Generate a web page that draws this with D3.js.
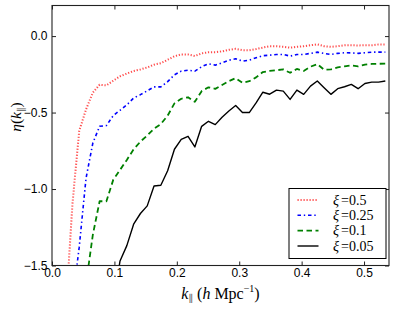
<!DOCTYPE html>
<html>
<head>
<meta charset="utf-8">
<script src="https://cdn.jsdelivr.net/npm/d3@7"></script>
<style>
  html, body { margin: 0; padding: 0; background: #fff; }
  svg { display: block; }
  .tick text { font-family: "Liberation Sans", Arial, sans-serif; font-size: 12px; fill: #000; }
</style>
</head>
<body>
<svg id="chart" width="395" height="309"></svg>
<script>
// k_parallel sample points (h Mpc^-1)
const kPar = [0.0109, 0.0218, 0.0327, 0.0436, 0.0545, 0.0654, 0.0763, 0.0872, 0.0981, 0.1090,
  0.1199, 0.1308, 0.1417, 0.1526, 0.1635, 0.1744, 0.1853, 0.1962, 0.2071, 0.2180,
  0.2289, 0.2398, 0.2507, 0.2616, 0.2725, 0.2834, 0.2943, 0.3052, 0.3161, 0.3270,
  0.3379, 0.3488, 0.3597, 0.3706, 0.3815, 0.3924, 0.4033, 0.4142, 0.4251, 0.4360,
  0.4469, 0.4578, 0.4687, 0.4796, 0.4905, 0.5014, 0.5123, 0.5232, 0.5341];

// eta(k_parallel) for each xi
const eta05 = [null, -1.82, -1.10, -0.62, -0.48, -0.37, -0.318, -0.322, -0.292, -0.263,
  -0.245, -0.228, -0.218, -0.205, -0.187, -0.177, -0.155, -0.132, -0.120, -0.120,
  -0.130, -0.113, -0.106, -0.105, -0.100, -0.090, -0.083, -0.092, -0.093, -0.085,
  -0.075, -0.066, -0.066, -0.070, -0.076, -0.070, -0.066, -0.060, -0.054, -0.066,
  -0.070, -0.066, -0.060, -0.060, -0.061, -0.060, -0.060, -0.055, -0.055];

const eta025 = [null, null, -1.74, -1.38, -0.93, -0.70, -0.59, -0.585, -0.52, -0.485,
  -0.45, -0.405, -0.383, -0.358, -0.332, -0.332, -0.298, -0.253, -0.229, -0.223,
  -0.229, -0.200, -0.181, -0.190, -0.175, -0.158, -0.148, -0.164, -0.157, -0.142,
  -0.128, -0.125, -0.120, -0.120, -0.131, -0.120, -0.120, -0.113, -0.105, -0.113,
  -0.120, -0.113, -0.109, -0.110, -0.113, -0.109, -0.105, -0.105, -0.105];

const eta01 = [null, null, null, null, -1.62, -1.30, -1.08, -1.08, -0.94, -0.875,
  -0.81, -0.74, -0.69, -0.65, -0.605, -0.575, -0.52, -0.44, -0.41, -0.40,
  -0.43, -0.36, -0.335, -0.345, -0.32, -0.295, -0.275, -0.305, -0.295, -0.27,
  -0.235, -0.228, -0.223, -0.218, -0.24, -0.215, -0.228, -0.20, -0.183, -0.22,
  -0.218, -0.205, -0.198, -0.192, -0.198, -0.187, -0.182, -0.181, -0.18];

const eta005 = [null, null, null, null, null, null, null, null, -1.75, -1.47,
  -1.37, -1.23, -1.16, -1.11, -0.98, -0.975, -0.88, -0.74, -0.675, -0.655,
  -0.725, -0.59, -0.557, -0.579, -0.531, -0.49, -0.454, -0.50, -0.50, -0.437,
  -0.367, -0.38, -0.353, -0.36, -0.414, -0.353, -0.381, -0.327, -0.294, -0.338,
  -0.381, -0.344, -0.331, -0.316, -0.344, -0.31, -0.301, -0.301, -0.294];

const xiLabels = ["0.5", "0.25", "0.1", "0.05"];
const xTicks = [0.0, 0.1, 0.2, 0.3, 0.4, 0.5];
const yTicks = [-1.5, -1.0, -0.5, 0.0];

const series = [
  { label: xiLabels[0], values: eta05, color: "#ff2020", dash: "1.2,1.8", width: 2, opacity: 0.8 },
  { label: xiLabels[1], values: eta025, color: "#0000ff", dash: "3.5,2.8,1.4,2.8", width: 1.6, opacity: 1 },
  { label: xiLabels[2], values: eta01, color: "#008000", dash: "5.5,3.5", width: 1.8, opacity: 1 },
  { label: xiLabels[3], values: eta005, color: "#000000", dash: null, width: 1.4, opacity: 1 }
];

const svg = d3.select("#chart");
const L = 52, R = 389, T = 5.5, B = 265.5;

const x = d3.scaleLinear().domain([0, 0.54]).range([L, R]);
const y = d3.scaleLinear().domain([-1.5, 0.2]).range([B, T]);

svg.append("defs").append("clipPath").attr("id", "clip")
  .append("rect").attr("x", L).attr("y", T).attr("width", R - L).attr("height", B - T);

const line = d3.line()
  .defined(d => d[1] !== null)
  .x(d => x(d[0]))
  .y(d => y(d[1]));

const plot = svg.append("g").attr("clip-path", "url(#clip)");
series.forEach(s => {
  const pts = kPar.map((k, i) => [k, s.values[i]]);
  plot.append("path")
    .attr("d", line(pts))
    .attr("fill", "none")
    .attr("stroke", s.color)
    .attr("stroke-opacity", s.opacity)
    .attr("stroke-width", s.width)
    .attr("stroke-dasharray", s.dash)
    .attr("stroke-linejoin", "round");
});

// axes (ticks inside)
const fmt = d3.format(".1f");
const gx = svg.append("g").attr("transform", `translate(0,${B})`)
  .call(d3.axisBottom(x).tickValues(xTicks).tickFormat(fmt).tickSizeInner(-4).tickSizeOuter(0).tickPadding(2.5));
const gxt = svg.append("g").attr("transform", `translate(0,${T})`)
  .call(d3.axisTop(x).tickValues(xTicks).tickFormat("").tickSizeInner(-4).tickSizeOuter(0));
const gy = svg.append("g").attr("transform", `translate(${L},0)`)
  .call(d3.axisLeft(y).tickValues(yTicks).tickFormat(fmt).tickSizeInner(-4).tickSizeOuter(0).tickPadding(4.5));
const gyr = svg.append("g").attr("transform", `translate(${R},0)`)
  .call(d3.axisRight(y).tickValues(yTicks).tickFormat("").tickSizeInner(-4).tickSizeOuter(0));
[gx, gxt, gy, gyr].forEach(g => {
  g.select(".domain").remove();
  g.selectAll(".tick line").attr("stroke", "#222").attr("stroke-width", 1);
});

// frame
svg.append("rect").attr("x", L).attr("y", T).attr("width", R - L).attr("height", B - T)
  .attr("fill", "none").attr("stroke", "#222").attr("stroke-width", 1.1);

// axis labels
const serif = "'Liberation Serif', 'DejaVu Serif', serif";
const xl = svg.append("text").attr("x", (L + R) / 2).attr("y", 298.5)
  .attr("text-anchor", "middle").attr("font-family", serif).attr("font-size", 16).attr("fill", "#000");
xl.append("tspan").attr("font-style", "italic").text("k");
xl.append("tspan").attr("font-size", 10).attr("dy", 3.5).attr("fill", "#555").text("\u2225");
xl.append("tspan").attr("dy", -3.5).text(" (");
xl.append("tspan").attr("font-style", "italic").text("h");
xl.append("tspan").text(" Mpc");
xl.append("tspan").attr("font-size", 10).attr("dy", -6.5).text("\u22121");
xl.append("tspan").attr("dy", 6.5).text(")");

const yl = svg.append("text").attr("transform", "translate(21,117) rotate(-90)")
  .attr("text-anchor", "middle").attr("font-family", serif).attr("font-size", 15.5).attr("fill", "#000");
yl.append("tspan").attr("font-style", "italic").text("\u03b7");
yl.append("tspan").text("(");
yl.append("tspan").attr("font-style", "italic").text("k");
yl.append("tspan").attr("font-size", 10).attr("dy", 3.5).attr("fill", "#555").text("\u2225");
yl.append("tspan").attr("dy", -3.5).text(")");

// legend
const lg = svg.append("g");
lg.append("rect").attr("x", 289).attr("y", 188.5).attr("width", 97).attr("height", 70)
  .attr("fill", "#fff").attr("stroke", "#000").attr("stroke-width", 1);
const rowY = [200, 215.3, 230.6, 246];
series.forEach((s, i) => {
  lg.append("line").attr("x1", 297.5).attr("x2", 318.5).attr("y1", rowY[i]).attr("y2", rowY[i])
    .attr("stroke", s.color).attr("stroke-opacity", s.opacity)
    .attr("stroke-width", s.width).attr("stroke-dasharray", s.dash);
  const t = lg.append("text").attr("x", 333).attr("y", rowY[i] + 4.5)
    .attr("font-family", serif).attr("font-size", 14).attr("fill", "#000");
  t.append("tspan").attr("font-style", "italic").text("\u03be");
  t.append("tspan").attr("dx", 2).text("=" + s.label);
});
</script>
</body>
</html>
